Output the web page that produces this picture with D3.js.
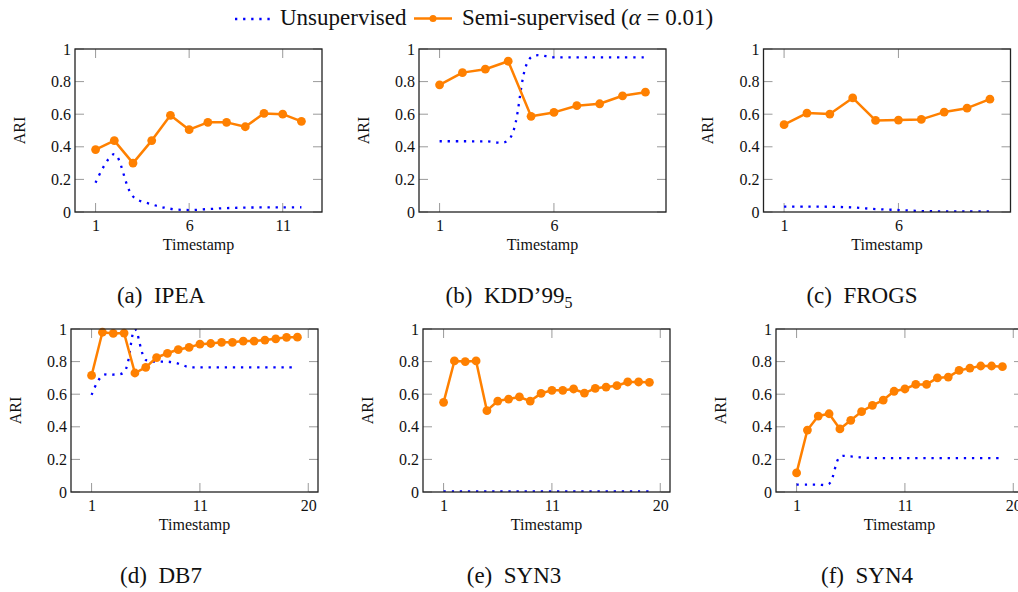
<!DOCTYPE html>
<html>
<head>
<meta charset="utf-8">
<script src="https://cdn.jsdelivr.net/npm/d3@7"></script>
<style>
  body { margin: 0; background: #fff; }
  svg text { font-family: "Liberation Serif", "Times New Roman", Times, "DejaVu Serif", serif; fill: #111; }
</style>
</head>
<body>
<div id="chart"></div>
<script>
// timestamps
var steps12 = [1, 2, 3, 4, 5, 6, 7, 8, 9, 10, 11, 12];
var steps10 = [1, 2, 3, 4, 5, 6, 7, 8, 9, 10];
var steps20 = [1, 2, 3, 4, 5, 6, 7, 8, 9, 10, 11, 12, 13, 14, 15, 16, 17, 18, 19, 20];

// ARI values
var ipeaUnsup = [0.18, 0.355, 0.095, 0.047, 0.02, 0.012, 0.018, 0.024, 0.027, 0.028, 0.028, 0.029];
var ipeaSemi = [0.383, 0.438, 0.30, 0.438, 0.593, 0.505, 0.55, 0.55, 0.523, 0.605, 0.60, 0.556];
var kddUnsup = [0.434, 0.434, 0.434, 0.44, 0.949, 0.949, 0.949, 0.949, 0.949, 0.949];
var kddSemi = [0.78, 0.855, 0.876, 0.925, 0.587, 0.611, 0.652, 0.664, 0.713, 0.735];
var frogsUnsup = [0.033, 0.033, 0.032, 0.028, 0.018, 0.012, 0.006, 0.004, 0.003, 0.003];
var frogsSemi = [0.536, 0.607, 0.601, 0.70, 0.562, 0.564, 0.568, 0.613, 0.637, 0.692];
var db7Unsup = [0.596, 0.715, 0.72, 0.735, 0.998, 0.81, 0.80, 0.80, 0.788, 0.766,
  0.765, 0.765, 0.765, 0.765, 0.765, 0.765, 0.765, 0.765, 0.765, 0.765];
var db7Semi = [0.715, 0.98, 0.973, 0.975, 0.73, 0.765, 0.825, 0.851, 0.874, 0.887,
  0.907, 0.911, 0.918, 0.918, 0.926, 0.926, 0.932, 0.94, 0.949, 0.95];
var syn3Unsup = [0.003, 0.003, 0.003, 0.003, 0.003, 0.003, 0.003, 0.003, 0.003, 0.003,
  0.003, 0.003, 0.003, 0.003, 0.003, 0.003, 0.003, 0.003, 0.003, 0.003];
var syn3Semi = [0.55, 0.804, 0.80, 0.804, 0.499, 0.558, 0.57, 0.583, 0.558, 0.605,
  0.624, 0.624, 0.632, 0.607, 0.636, 0.644, 0.652, 0.675, 0.675, 0.673];
var syn4Unsup = [0.045, 0.045, 0.045, 0.05, 0.215, 0.218, 0.212, 0.208, 0.208, 0.208,
  0.208, 0.208, 0.208, 0.208, 0.208, 0.208, 0.208, 0.208, 0.208, 0.208];
var syn4Semi = [0.117, 0.38, 0.466, 0.48, 0.387, 0.44, 0.493, 0.532, 0.564, 0.618,
  0.632, 0.66, 0.66, 0.70, 0.705, 0.746, 0.76, 0.773, 0.773, 0.769];

// tick values / labels
var yTicks = [0, 0.2, 0.4, 0.6, 0.8, 1];
var yTickLabels = ["0", "0.2", "0.4", "0.6", "0.8", "1"];
var xTicksTop = [1, 6, 11];
var xTickLabelsTop = ["1", "6", "11"];
var xTicksBottom = [1, 11, 21];
var xTickLabelsBottom = ["1", "11", "20"];

var captions = ["(a)", "(b)", "(c)", "(d)", "(e)", "(f)"];
var names = ["IPEA", "KDD\u201999", "FROGS", "DB7", "SYN3", "SYN4"];

var blue = "#0000ff";
var orange = "#ff8000";
var serif = "'Liberation Serif', 'Times New Roman', Times, 'DejaVu Serif', serif";

var svgWidth = 1018, svgHeight = 592;
var svg = d3.select("#chart").append("svg")
  .attr("width", svgWidth)
  .attr("height", svgHeight)
  .attr("font-family", serif);

var panelW = 247, panelH = 163;

// layout of each small chart
var panels = [
  {left: 75, top: 49, xs: steps12, u: ipeaUnsup, s: ipeaSemi, dom: [-0.1, 13.1], ticks: xTicksTop, labels: xTickLabelsTop, capX: 161, capY: 303},
  {left: 419, top: 49, xs: steps10, u: kddUnsup, s: kddSemi, dom: [0.1, 10.9], ticks: xTicksTop, labels: xTickLabelsTop, capX: 509, capY: 303, sub: "5"},
  {left: 763.5, top: 49, xs: steps10, u: frogsUnsup, s: frogsSemi, dom: [0.1, 10.9], ticks: xTicksTop, labels: xTickLabelsTop, capX: 862, capY: 303},
  {left: 71, top: 329, xs: steps20, u: db7Unsup, s: db7Semi, dom: [-0.9, 21.9], ticks: xTicksBottom, labels: xTickLabelsBottom, capX: 161, capY: 583},
  {left: 423, top: 329, xs: steps20, u: syn3Unsup, s: syn3Semi, dom: [-0.9, 21.9], ticks: xTicksBottom, labels: xTickLabelsBottom, capX: 514, capY: 583},
  {left: 776, top: 329, xs: steps20, u: syn4Unsup, s: syn4Semi, dom: [-0.9, 21.9], ticks: xTicksBottom, labels: xTickLabelsBottom, capX: 867, capY: 583}
];

panels.forEach(function(p, i) {
  var g = svg.append("g").attr("transform", `translate(${p.left}, ${p.top})`);

  var xScale = d3.scaleLinear().domain(p.dom).range([0, panelW]);
  var yScale = d3.scaleLinear().domain([0, 1]).range([panelH, 0]);

  var clipId = "clip" + i;
  g.append("clipPath").attr("id", clipId)
    .append("rect").attr("width", panelW).attr("height", panelH);

  // inner gray ticks, mirrored on both sides
  var xt = p.ticks.filter(t => t >= p.dom[0] && t <= p.dom[1]);
  xt.forEach(function(t) {
    g.append("line").attr("x1", xScale(t)).attr("x2", xScale(t))
      .attr("y1", panelH).attr("y2", panelH - 9)
      .attr("stroke", "#9a9a9a").attr("stroke-width", 1);
    g.append("line").attr("x1", xScale(t)).attr("x2", xScale(t))
      .attr("y1", 0).attr("y2", 9)
      .attr("stroke", "#9a9a9a").attr("stroke-width", 1);
  });
  yTicks.forEach(function(t) {
    g.append("line").attr("x1", 0).attr("x2", 9)
      .attr("y1", yScale(t)).attr("y2", yScale(t))
      .attr("stroke", "#9a9a9a").attr("stroke-width", 1);
    g.append("line").attr("x1", panelW).attr("x2", panelW - 9)
      .attr("y1", yScale(t)).attr("y2", yScale(t))
      .attr("stroke", "#9a9a9a").attr("stroke-width", 1);
  });

  // axes: labels only, ticks drawn above
  var bottomAxis = d3.axisBottom(xScale).tickValues(xt)
    .tickFormat(d => p.labels[p.ticks.indexOf(d)]).tickSize(0).tickPadding(8);
  var leftAxis = d3.axisLeft(yScale).tickValues(yTicks)
    .tickFormat((d, k) => yTickLabels[k]).tickSize(0).tickPadding(4);

  var bx = g.append("g").attr("transform", `translate(0, ${panelH})`).call(bottomAxis);
  var ly = g.append("g").call(leftAxis);
  [bx, ly].forEach(function(a) {
    a.attr("font-family", serif).attr("font-size", 16);
    a.select(".domain").remove();
    a.selectAll("text").attr("fill", "#111");
  });

  var plot = g.append("g").attr("clip-path", `url(#${clipId})`);

  var pts = p.xs.map((x, k) => [x, p.u[k]]);
  plot.append("path")
    .attr("d", d3.line().x(d => xScale(d[0])).y(d => yScale(d[1]))
      .curve(d3.curveCatmullRom.alpha(0.5))(pts))
    .attr("fill", "none").attr("stroke", blue)
    .attr("stroke-width", 2.3).attr("stroke-dasharray", "2.3,5.8");

  var spts = p.xs.map((x, k) => [x, p.s[k]]);
  plot.append("path")
    .attr("d", d3.line().x(d => xScale(d[0])).y(d => yScale(d[1]))(spts))
    .attr("fill", "none").attr("stroke", orange).attr("stroke-width", 2.5)
    .attr("stroke-linejoin", "round");

  g.selectAll("circle.m").data(spts).enter().append("circle")
    .attr("class", "m")
    .attr("cx", d => xScale(d[0]))
    .attr("cy", d => yScale(d[1]))
    .attr("r", 4.4)
    .attr("fill", orange);

  // frame
  g.append("rect").attr("width", panelW).attr("height", panelH)
    .attr("fill", "none").attr("stroke", "#222").attr("stroke-width", 1.3);

  g.append("text")
    .attr("transform", `translate(${-56}, ${panelH / 2}) rotate(-90)`)
    .attr("dy", "0.35em")
    .style("text-anchor", "middle")
    .attr("font-size", 16)
    .text("ARI");

  g.append("text")
    .attr("x", panelW / 2).attr("y", panelH + 38)
    .style("text-anchor", "middle")
    .attr("font-size", 16)
    .text("Timestamp");

  var cap = svg.append("text")
    .attr("x", p.capX).attr("y", p.capY)
    .style("text-anchor", "middle")
    .attr("font-size", 23);
  cap.append("tspan").text(captions[i] + "\u00a0\u00a0" + names[i]);
  if (p.sub) {
    cap.append("tspan").attr("dy", 5).attr("font-size", 16).text(p.sub);
  }
});

// legend
var legend = svg.append("g");
legend.append("line").attr("x1", 235).attr("x2", 273).attr("y1", 19).attr("y2", 19)
  .attr("stroke", blue).attr("stroke-width", 2.3).attr("stroke-dasharray", "2.3,5.8");
legend.append("text").attr("x", 280).attr("y", 25).attr("font-size", 23).text("Unsupervised");
legend.append("line").attr("x1", 414).attr("x2", 452).attr("y1", 18.5).attr("y2", 18.5)
  .attr("stroke", orange).attr("stroke-width", 2.5);
legend.append("circle").attr("cx", 433).attr("cy", 18.5).attr("r", 3.5).attr("fill", orange);
var lt = legend.append("text").attr("x", 462).attr("y", 25).attr("font-size", 23);
lt.append("tspan").text("Semi-supervised (");
lt.append("tspan").style("font-style", "italic").text("\u03b1");
lt.append("tspan").text(" = 0.01)");
</script>
</body>
</html>
